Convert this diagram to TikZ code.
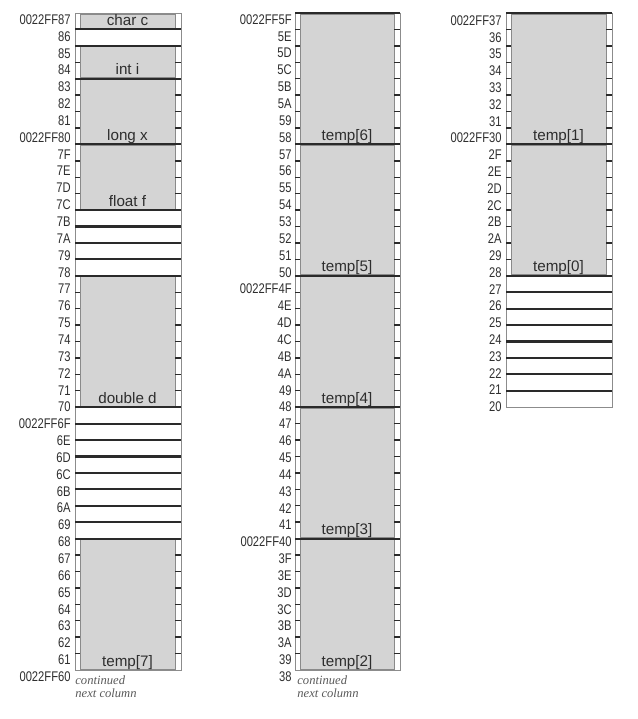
\documentclass[tikz,border=0pt]{standalone}
\usepackage{fontspec}
\setmainfont{Liberation Sans}
\newfontfamily\addrfont[FakeStretch=0.8]{Liberation Sans}
\newfontfamily\notefont{Liberation Serif}
\usetikzlibrary{calc}

\definecolor{cellgray}{HTML}{D4D4D4}
\definecolor{celledge}{HTML}{8A8A8A}
\definecolor{inkdark}{HTML}{2A2A2A}
\definecolor{framegray}{HTML}{8C8C8C}
\definecolor{addrink}{HTML}{2E2E2E}
\definecolor{noteink}{HTML}{5A5A5A}

% one variable: #1 name, #2 outer left, #3 outer right, #4 first row, #5 rows, #6 label
\newcommand{\cellblock}[6]{%
  \pgfmathsetmacro{\cellytop}{13+#4*16.425}
  \pgfmathsetmacro{\cellybot}{13+(#4+#5)*16.425}
  \draw[cellbox] ({#2+5},{\cellytop+1}) rectangle ({#3-6},{\cellybot-1});
  \ifnum#5>1
    \pgfmathtruncatemacro{\celllast}{#5-1}
    \foreach \k in {1,...,\celllast} {
      \pgfmathsetmacro{\cellyk}{\cellytop+\k*16.425}
      \draw[bytetick] (#2,\cellyk) -- ({#2+5},\cellyk);
      \draw[bytetick] ({#3-6},\cellyk) -- (#3,\cellyk);
    }
  \fi
  \node[cellname] (#1) at ({(#2+#3)/2-0.5},{\cellybot-4}) {#6};
}

\begin{document}
\begin{tikzpicture}[
  x=0.5pt, y=-0.5pt,
  frame/.style={draw=framegray, line width=0.5pt},
  cellbox/.style={fill=cellgray, draw=celledge, line width=0.45pt},
  rowline/.style={draw=inkdark, line width=1.05pt},
  bytetick/.style={draw=inkdark, line width=0.7pt},
  addr/.style={anchor=east, inner sep=0pt, text=addrink,
               font=\addrfont\fontsize{7}{8}\selectfont},
  cellname/.style={anchor=base, inner sep=0pt, text=addrink,
                   font=\fontsize{7.6}{9}\selectfont},
  note/.style={anchor=base west, inner sep=0pt, text=noteink,
               font=\notefont\itshape\fontsize{6.3}{7}\selectfont}
]
\useasboundingbox (0,0) rectangle (638,719);

% column 1
\draw[frame] (75,13) rectangle (181,670);
\cellblock{charc}{75}{181}{0}{1}{char c}
\cellblock{inti}{75}{181}{2}{2}{int i}
\cellblock{longx}{75}{181}{4}{4}{long x}
\cellblock{floatf}{75}{181}{8}{4}{float f}
\cellblock{doubled}{75}{181}{16}{8}{double d}
\cellblock{temp7}{75}{181}{32}{8}{temp[7]}
\foreach \r in {1,2,4,8,12,13,14,15,16,24,25,26,27,28,29,30,31,32}
  \draw[rowline] (75,{13+\r*16.425}) -- (181,{13+\r*16.425});

% column 2
\draw[frame] (295,13) rectangle (400,670);
\cellblock{temp6}{295}{400}{0}{8}{temp[6]}
\cellblock{temp5}{295}{400}{8}{8}{temp[5]}
\cellblock{temp4}{295}{400}{16}{8}{temp[4]}
\cellblock{temp3}{295}{400}{24}{8}{temp[3]}
\cellblock{temp2}{295}{400}{32}{8}{temp[2]}
\foreach \r in {0,8,16,24,32}
  \draw[rowline] (295,{13+\r*16.425}) -- (400,{13+\r*16.425});

% column 3
\draw[frame] (506,13) rectangle (612,{13+24*16.425});
\cellblock{temp1}{506}{612}{0}{8}{temp[1]}
\cellblock{temp0}{506}{612}{8}{8}{temp[0]}
\foreach \r in {0,8,16,17,18,19,20,21,22,23}
  \draw[rowline] (506,{13+\r*16.425}) -- (612,{13+\r*16.425});

% addresses
\foreach \a [count=\k from 0] in {0022FF87,86,85,84,83,82,81,0022FF80,7F,7E,7D,7C,
    7B,7A,79,78,77,76,75,74,73,72,71,70,0022FF6F,6E,6D,6C,6B,6A,69,68,
    67,66,65,64,63,62,61,0022FF60}
  \node[addr] (ca\k) at (71,{19.5+16.85*\k}) {\a};
\foreach \a [count=\k from 0] in {0022FF5F,5E,5D,5C,5B,5A,59,58,57,56,55,54,
    53,52,51,50,0022FF4F,4E,4D,4C,4B,4A,49,48,47,46,45,44,43,42,41,0022FF40,
    3F,3E,3D,3C,3B,3A,39,38}
  \node[addr] (cb\k) at (292,{19.5+16.85*\k}) {\a};
\foreach \a [count=\k from 0] in {0022FF37,36,35,34,33,32,31,0022FF30,2F,2E,2D,2C,
    2B,2A,29,28,27,26,25,24,23,22,21,20}
  \node[addr] (cc\k) at (502,{20.5+16.8*\k}) {\a};

% continuation notes
\node[note] (contA) at (75,684) {continued};
\node[note] (nextA) at (75,697.7) {next column};
\node[note] (contB) at (297,684) {continued};
\node[note] (nextB) at (297,697.7) {next column};
\end{tikzpicture}
\end{document}
